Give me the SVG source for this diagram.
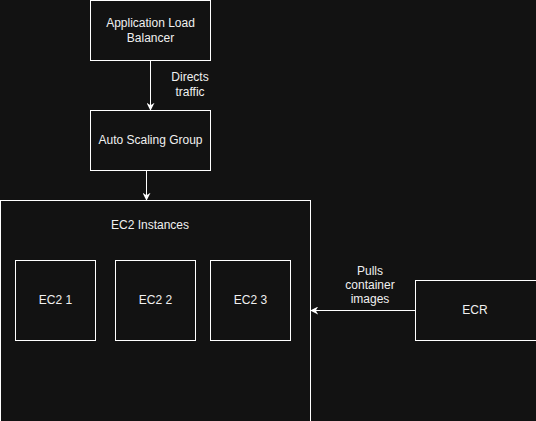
<svg xmlns="http://www.w3.org/2000/svg" width="536" height="421" viewBox="0 0 536 421">
<defs>
<style>
.box{fill:#121212;stroke:#ffffff;stroke-width:1}
.t{font-family:"Liberation Sans",Arial,sans-serif;font-size:12px;fill:#f0f0f0;text-anchor:middle}
.e{stroke:#ffffff;stroke-width:1;fill:none}
</style>
<marker id="ah" viewBox="0 0 10 10" refX="9" refY="5" markerWidth="8" markerHeight="8" markerUnits="userSpaceOnUse" orient="auto">
<path d="M0,0 L10,5 L0,10 L3,5 Z" fill="#ffffff"/>
</marker>
</defs>
<rect width="536" height="421" fill="#121212"/>
<g id="alb">
<rect class="box" x="90.5" y="0.5" width="120" height="60"/>
<text class="t" x="150.5" y="27">Application Load</text>
<text class="t" x="150.5" y="42">Balancer</text>
</g>
<g id="asg">
<rect class="box" x="90.5" y="110.5" width="120" height="60"/>
<text class="t" x="150.5" y="144">Auto Scaling Group</text>
</g>
<g id="ec2-instances">
<rect class="box" x="0.5" y="200.5" width="310" height="230"/>
<text class="t" x="150" y="229">EC2 Instances</text>
</g>
<g id="ec2-1">
<rect class="box" x="15.5" y="260.5" width="80" height="80"/>
<text class="t" x="55.5" y="304">EC2 1</text>
</g>
<g id="ec2-2">
<rect class="box" x="115.5" y="260.5" width="80" height="80"/>
<text class="t" x="155.5" y="304">EC2 2</text>
</g>
<g id="ec2-3">
<rect class="box" x="210.5" y="260.5" width="80" height="80"/>
<text class="t" x="250.5" y="304">EC2 3</text>
</g>
<g id="ecr">
<rect class="box" x="415.5" y="280.5" width="130" height="60"/>
<text class="t" x="475" y="314">ECR</text>
</g>
<g id="connectors">
<line class="e" x1="150.5" y1="61" x2="150.5" y2="110" marker-end="url(#ah)"/>
<text class="t" x="190" y="81">Directs</text>
<text class="t" x="190" y="96">traffic</text>
<line class="e" x1="146.5" y1="171" x2="146.5" y2="200" marker-end="url(#ah)"/>
<line class="e" x1="415" y1="310.5" x2="311" y2="310.5" marker-end="url(#ah)"/>
<text class="t" x="370" y="275">Pulls</text>
<text class="t" x="370" y="289">container</text>
<text class="t" x="370" y="303">images</text>
</g>
</svg>
